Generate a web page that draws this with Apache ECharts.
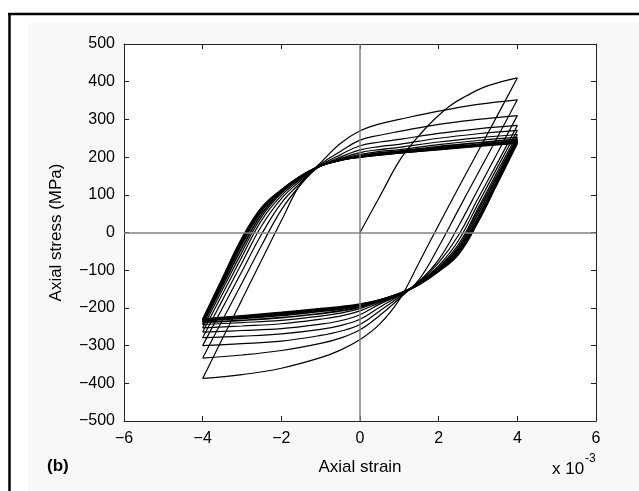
<!DOCTYPE html>
<html>
<head>
<meta charset="utf-8">
<script src="https://cdn.jsdelivr.net/npm/echarts@6/dist/echarts.min.js"></script>
<style>
html,body{margin:0;padding:0;background:#fff;}
#chart{width:639px;height:491px;}
</style>
</head>
<body>
<div id="chart"></div>
<script>
// Strain values (x 10^-3) at which each branch is read
const LOWER_STRAIN = [4, 3.5, 3, 2.5, 2, 1.5, 1, 0.5, 0, -0.5, -1, -2, -3, -4];
const UPPER_STRAIN = [-4, -3.5, -3, -2.5, -2, -1.5, -1, -0.5, 0, 0.5, 1, 2, 3, 4];

// Initial monotonic loading
const INITIAL_STRAIN = [0, 0.5, 1.0, 1.4, 1.86, 2.3, 2.7, 3.14, 3.6, 4.0];
const INITIAL_STRESS = [0, 95, 190, 245, 297, 337, 362, 385, 400, 410];

// Descending (unloading / compression) branches, MPa
const LOWER_1 = [410, 312, 215, 118, 20, -80, -178, -243, -284, -312, -332, -360, -377, -387];
const LOWER_2 = [352, 254, 157, 60, -38, -125, -175, -220, -258, -280, -294, -313, -325, -333];
const LOWER_3 = [310, 212, 114, 16, -72, -130, -171, -208, -244, -262, -273, -288, -295, -300];
const LOWER_4 = [284, 186, 90, -8, -80, -132, -168, -198, -230, -247, -257, -269, -275, -279];
const LOWER_5 = [271, 174, 76, -22, -88, -133, -166, -190, -218, -234, -243, -255, -260, -264];
const LOWER_6 = [260, 163, 64, -32, -92, -134, -165, -186, -208, -222, -230, -242, -248, -253];
const LOWER_7 = [253, 156, 58, -38, -94, -135, -164, -183, -202, -214, -222, -233, -239, -244];
const LOWER_8 = [248, 149, 50, -44, -97, -136, -163, -181, -198, -208, -215, -226, -233, -238];
const LOWER_9 = [244, 141, 40, -50, -100, -137, -163, -180, -195, -204, -209, -220, -228, -234];
const LOWER_10 = [241, 137, 35, -54, -101, -137, -162, -179, -193, -201, -206, -217, -225, -232];
const LOWER_11 = [239, 134, 31, -56, -102, -138, -162, -179, -191, -199, -204, -214, -223, -231];
const LOWER_12 = [237, 132, 28, -58, -103, -138, -163, -179, -190, -197, -202, -212, -221, -230];

// Ascending (reloading / tension) branches, MPa
const UPPER_2 = [-387, -282, -178, -73, 31, 131, 185, 236, 270, 288, 300, 322, 340, 352];
const UPPER_3 = [-333, -233, -134, -34, 60, 128, 181, 215, 245, 258, 268, 287, 300, 310];
const UPPER_4 = [-300, -201, -103, -4, 78, 133, 178, 206, 230, 240, 247, 263, 275, 284];
const UPPER_5 = [-279, -180, -80, 18, 90, 138, 177, 200, 219, 228, 234, 250, 262, 271];
const UPPER_6 = [-264, -164, -64, 33, 98, 142, 177, 196, 212, 220, 226, 240, 251, 260];
const UPPER_7 = [-253, -152, -52, 42, 104, 145, 177, 194, 207, 215, 220, 233, 244, 253];
const UPPER_8 = [-244, -142, -41, 50, 108, 147, 177, 193, 203, 211, 216, 228, 238, 248];
const UPPER_9 = [-238, -134, -30, 58, 110, 148, 177, 192, 202, 208, 214, 225, 234, 244];
const UPPER_10 = [-234, -129, -24, 61, 111, 149, 177, 192, 201, 207, 212, 222, 231, 241];
const UPPER_11 = [-232, -126, -19, 64, 112, 150, 177, 192, 200, 206, 211, 221, 230, 239];
const UPPER_12 = [-231, -122, -15, 66, 113, 150, 177, 192, 200, 206, 211, 220, 229, 237];

const X_MIN = -6, X_MAX = 6, X_STEP = 2;
const Y_MIN = -500, Y_MAX = 500, Y_STEP = 100;

const LOWERS = [LOWER_1, LOWER_2, LOWER_3, LOWER_4, LOWER_5, LOWER_6, LOWER_7, LOWER_8, LOWER_9, LOWER_10, LOWER_11, LOWER_12];
const UPPERS = [UPPER_2, UPPER_3, UPPER_4, UPPER_5, UPPER_6, UPPER_7, UPPER_8, UPPER_9, UPPER_10, UPPER_11, UPPER_12];

const FONT = '"Liberation Sans", Arial, Helvetica, sans-serif';
const minus = v => String(v).replace('-', '\u2212');

function branch(xs, ys, width, extra) {
  return Object.assign({
    type: 'line',
    data: xs.map((x, i) => [x, ys[i]]),
    showSymbol: false,
    symbol: 'none',
    smooth: 0.4,
    lineStyle: { color: '#000', width: width },
    silent: true,
    z: 3
  }, extra || {});
}

const series = [];
series.push(branch(INITIAL_STRAIN, INITIAL_STRESS, 1.2, {
  z: 2,
  markLine: {
    silent: true,
    symbol: 'none',
    label: { show: false },
    lineStyle: { color: '#808080', width: 1.5, type: 'solid' },
    data: [{ yAxis: 0 }, { xAxis: 0 }]
  }
}));
for (let i = 0; i < LOWERS.length; i++) {
  const w = i >= 7 ? 1.7 : 1.2;
  series.push(branch(LOWER_STRAIN, LOWERS[i], w));
  if (i < UPPERS.length) series.push(branch(UPPER_STRAIN, UPPERS[i], i >= 6 ? 1.7 : 1.2));
}

const axisCommon = {
  type: 'value',
  axisLine: { show: true, onZero: false, lineStyle: { color: '#222', width: 1 } },
  axisTick: { show: true, inside: true, length: 5, lineStyle: { color: '#222', width: 1 } },
  splitLine: { show: false }
};

const chart = echarts.init(document.getElementById('chart'), null, { renderer: 'canvas' });
chart.setOption({
  animation: false,
  backgroundColor: '#fff',
  textStyle: { fontFamily: FONT },
  grid: { left: 124, right: 43, top: 44, bottom: 70, show: true, backgroundColor: '#fff', borderWidth: 0, containLabel: false },
  xAxis: [
    Object.assign({}, axisCommon, {
      position: 'bottom', min: X_MIN, max: X_MAX, interval: X_STEP,
      axisLabel: { color: '#000', fontSize: 16, fontFamily: FONT, margin: 10, formatter: minus },
      name: 'Axial strain', nameLocation: 'middle', nameGap: 38,
      nameTextStyle: { color: '#000', fontSize: 17, fontFamily: FONT }
    }),
    Object.assign({}, axisCommon, {
      position: 'top', min: X_MIN, max: X_MAX, interval: X_STEP,
      axisLabel: { show: false }
    })
  ],
  yAxis: [
    Object.assign({}, axisCommon, {
      position: 'left', min: Y_MIN, max: Y_MAX, interval: Y_STEP,
      axisLabel: { color: '#000', fontSize: 16, fontFamily: FONT, margin: 9, formatter: minus },
      name: 'Axial stress (MPa)', nameLocation: 'middle', nameGap: 59, nameRotate: 90,
      nameTextStyle: { color: '#000', fontSize: 17, fontFamily: FONT }
    }),
    Object.assign({}, axisCommon, {
      position: 'right', min: Y_MIN, max: Y_MAX, interval: Y_STEP,
      axisLabel: { show: false }
    })
  ],
  graphic: [
    { type: 'rect', z: -100, silent: true, shape: { x: 28, y: 23, width: 611, height: 468 }, style: { fill: '#f8f8f8' } },
    { type: 'line', z: 100, silent: true, shape: { x1: 9.5, y1: 13, x2: 9.5, y2: 491 }, style: { stroke: '#000', lineWidth: 2.5 } },
    { type: 'line', z: 100, silent: true, shape: { x1: 8, y1: 14, x2: 639, y2: 14 }, style: { stroke: '#000', lineWidth: 2.5 } },
    { type: 'text', z: 100, silent: true, left: 47, top: 458, style: { text: '(b)', font: 'bold 17px ' + FONT, fill: '#000' } },
    { type: 'text', z: 100, silent: true, left: 552, top: 461, style: { text: 'x 10', font: '17px ' + FONT, fill: '#000' } },
    { type: 'text', z: 100, silent: true, left: 585, top: 453, style: { text: '-3', font: '12px ' + FONT, fill: '#000' } }
  ],
  series: series
});
</script>
</body>
</html>
